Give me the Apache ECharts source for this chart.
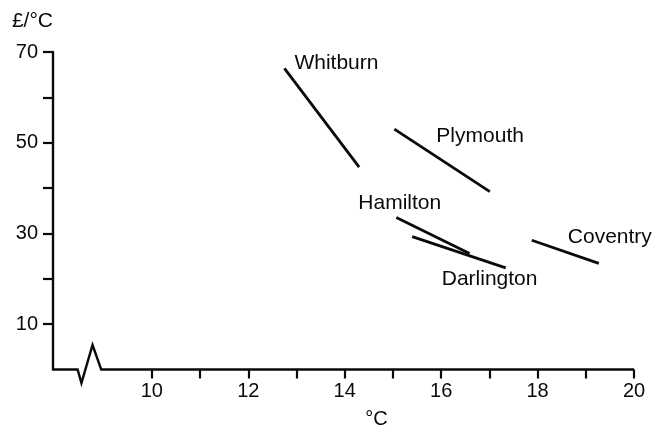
<!DOCTYPE html>
<html><head><meta charset="utf-8">
<script src="https://cdn.jsdelivr.net/npm/echarts@6/dist/echarts.min.js"></script>
<style>html,body{margin:0;padding:0;background:#fff}#c{width:653px;height:431px}</style>
</head><body><div id="c"></div>
<script>
// Town names and line segments [x °C, y £/°C] (start, end)
var towns = ['Whitburn', 'Plymouth', 'Hamilton', 'Darlington', 'Coventry'];
var whitburn   = [[12.75, 66.4], [14.30, 44.6]];
var plymouth   = [[15.03, 53.0], [17.01, 39.2]];
var hamilton   = [[15.07, 33.5], [16.59, 25.6]];
var darlington = [[15.40, 29.3], [17.34, 22.4]];
var coventry   = [[17.88, 28.5], [19.27, 23.4]];
var segments = [whitburn, plymouth, hamilton, darlington, coventry];
// which end of each segment carries the name
var labelEnd = [0, 0, 0, 1, 0];
// axis break zig-zag on the x-axis baseline
var axisBreak = [[7.95, 0], [8.46, 0], [8.54, -3.0], [8.77, 5.4], [8.95, 0], [20, 0]];
var xTicks = [10, 11, 12, 13, 14, 15, 16, 17, 18, 19, 20];
var xLabels = [10, 12, 14, 16, 18, 20];
var yTicks = [10, 20, 30, 40, 50, 60, 70];
var yLabels = [10, 30, 50, 70];

var labelOffsets = [[10, -5], [42, 7], [-38, -14], [-64, 11], [36, -3]];

var font = 'Liberation Sans';
var ink = '#0a0a0a';
var series = [];
segments.forEach(function (seg) {
  series.push({
    type: 'line', data: seg, symbol: 'none', silent: true,
    lineStyle: { color: ink, width: 2.8 }, z: 3
  });
});
series.push({
  type: 'line', data: axisBreak, symbol: 'none', silent: true, clip: false,
  lineStyle: { color: ink, width: 2.4, join: 'miter' }, z: 2
});
series.push({
  type: 'scatter', symbolSize: 1, silent: true, z: 4,
  itemStyle: { color: 'rgba(0,0,0,0)', opacity: 1 },
  data: towns.map(function (t, i) {
    var p = segments[i][labelEnd[i]];
    return {
      value: p, name: t,
      label: {
        show: true, formatter: t, position: 'inside', offset: labelOffsets[i],
        align: 'left', verticalAlign: 'middle',
        color: ink, fontSize: 21, fontFamily: font,
        textBorderWidth: 0, opacity: 1
      }
    };
  })
});

var chart = echarts.init(document.getElementById('c'));
chart.setOption({
  animation: false,
  backgroundColor: '#fff',
  grid: { left: 53, right: 19, top: 52, bottom: 61.5, containLabel: false, outerBoundsMode: 'none' },
  xAxis: {
    type: 'value', min: 7.95, max: 20,
    name: '°C', nameLocation: 'middle', nameGap: 40,
    nameTextStyle: { color: ink, fontSize: 20, fontFamily: font, padding: [0, 0, 0, 66] },
    axisLine: { show: false },
    axisTick: { show: true, length: 9, customValues: xTicks, lineStyle: { color: ink, width: 2.2 } },
    axisLabel: { customValues: xLabels, color: ink, fontSize: 20, fontFamily: font, margin: 12 },
    splitLine: { show: false }
  },
  yAxis: {
    type: 'value', min: 0, max: 70,
    name: '£/°C', nameLocation: 'end', nameGap: 20,
    nameTextStyle: { color: ink, fontSize: 21, fontFamily: font, align: 'right' },
    axisLine: { show: true, lineStyle: { color: ink, width: 2.4 } },
    axisTick: { show: true, length: 10, customValues: yTicks, lineStyle: { color: ink, width: 2.2 } },
    axisLabel: { customValues: yLabels, color: ink, fontSize: 20, fontFamily: font, margin: 15 },
    splitLine: { show: false }
  },
  series: series
});
</script></body></html>
